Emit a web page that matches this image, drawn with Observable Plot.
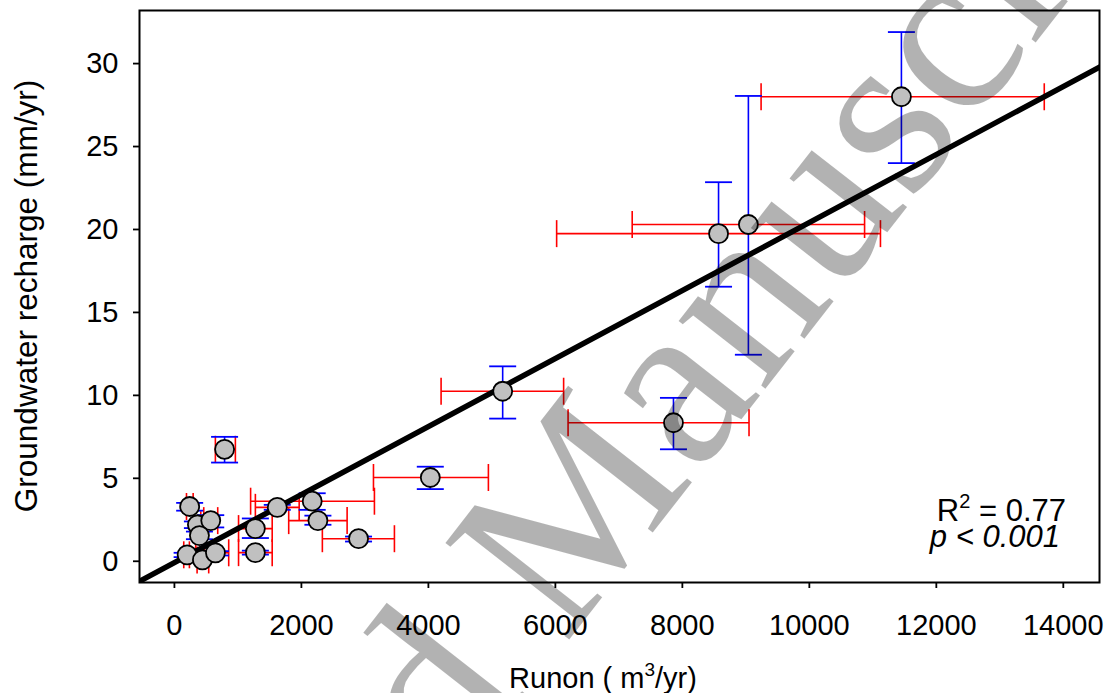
<!DOCTYPE html>
<html><head><meta charset="utf-8">
<script src="https://cdn.jsdelivr.net/npm/d3@7"></script>
<script src="https://cdn.jsdelivr.net/npm/@observablehq/plot@0.6"></script>
<style>
body{margin:0;background:#fff;}
#chart{position:relative;width:1108px;height:693px;overflow:hidden;background:#fff}
</style>
</head><body><div id="chart"></div>
<script>
// ---- data ----
const runon        = [11450, 9040, 8570, 5170, 7860, 4030, 790, 2900, 2170, 1620, 2260, 1275, 1275, 240, 362, 572, 394, 200, 441, 646];
const runonLow     = [ 9240, 7210, 6020, 4200, 6200, 3135, 645, 2330, 1200, 1275, 1800, 1010, 1010, 190, 310, 462, 335, 147, 357, 472];
const runonHigh    = [13700,10870,11120, 6130, 9050, 4945, 960, 3465, 3150, 1965, 2720, 1540, 1540, 295, 415, 682, 455, 236, 540, 855];
const recharge     = [28.0, 20.3, 19.75, 10.25, 8.35, 5.05, 6.75, 1.36, 3.62, 3.25, 2.45, 1.97, 0.52, 3.30, 2.20, 2.45, 1.55, 0.39, 0.08, 0.51];
const rechargeLow  = [24.0, 12.45,16.55, 8.6,  6.75, 4.35, 5.95, 1.19, 3.10, 3.10, 2.20, 1.40, 0.40, 3.05, 2.00, 2.04, 1.33, 0.25, -0.02, 0.35];
const rechargeHigh = [31.9, 28.05,22.85, 11.75, 9.85, 5.70, 7.50, 1.49, 4.10, 3.40, 2.75, 2.58, 0.64, 3.52, 2.40, 2.78, 1.79, 0.51, 0.18, 0.61];
const xTicks = [0, 2000, 4000, 6000, 8000, 10000, 12000, 14000];
const yTicks = [0, 5, 10, 15, 20, 25, 30];
const xDomain = [-550, 14570];
const yDomain = [-1.28, 33.2];
const fitIntercept = -0.08;
const fitSlope = 0.00205;
const r2Text = "0.77";
const pText = "0.001";
const xTitle = "Runon (";
const yTitle = "Groundwater recharge (mm/yr)";
const watermarkWords = ["Accepted", "Manuscript"];

// ---- tables ----
const rows = runon.map((x, i) => ({x, y: recharge[i], x1: runonLow[i], x2: runonHigh[i], y1: rechargeLow[i], y2: rechargeHigh[i]}));
const fitRows = xDomain.map(x => ({x, y: fitIntercept + fitSlope * x}));

// cap symbols (length driven by r)
const vCap = {draw(ctx, size){ const h = Math.sqrt(size / Math.PI); ctx.moveTo(0, -h); ctx.lineTo(0, h); }};
const hCap = {draw(ctx, size){ const h = Math.sqrt(size / Math.PI); ctx.moveTo(-h, 0); ctx.lineTo(h, 0); }};
const capR = 13.5;
const RED = "#ff0000", BLUE = "#0000ff";

const plot = Plot.plot({
  width: 1108, height: 693,
  marginLeft: 139, marginRight: 9, marginTop: 10, marginBottom: 111,
  style: {fontFamily: "'Liberation Sans', Arial, sans-serif", fontSize: "29px", background: "#fff", color: "#000"},
  x: {domain: xDomain, label: null},
  y: {domain: yDomain, label: null},
  marks: [
    Plot.axisX({ticks: xTicks, tickFormat: d3.format("d"), tickSize: 6, tickPadding: 26, strokeWidth: 1.8, fontSize: 29, label: null}),
    Plot.axisY({ticks: yTicks, tickFormat: d3.format("d"), tickSize: 6, tickPadding: 15, strokeWidth: 1.8, fontSize: 29, label: null}),
    // x error bars (red)
    Plot.link(rows, {x1: "x1", x2: "x2", y1: "y", y2: "y", stroke: RED, strokeWidth: 1.6}),
    Plot.dot(rows, {x: "x1", y: "y", symbol: vCap, r: capR, stroke: RED, strokeWidth: 1.6, fill: "none"}),
    Plot.dot(rows, {x: "x2", y: "y", symbol: vCap, r: capR, stroke: RED, strokeWidth: 1.6, fill: "none"}),
    // y error bars (blue)
    Plot.link(rows, {x1: "x", x2: "x", y1: "y1", y2: "y2", stroke: BLUE, strokeWidth: 1.6}),
    Plot.dot(rows, {x: "x", y: "y1", symbol: hCap, r: capR, stroke: BLUE, strokeWidth: 1.8, fill: "none"}),
    Plot.dot(rows, {x: "x", y: "y2", symbol: hCap, r: capR, stroke: BLUE, strokeWidth: 1.8, fill: "none"}),
    // regression line
    Plot.line(fitRows, {x: "x", y: "y", stroke: "#000", strokeWidth: 5.5, clip: true}),
    // points
    Plot.dot(rows, {x: "x", y: "y", r: 9.5, fill: "#c0c0c0", stroke: "#000", strokeWidth: 1.8}),
    Plot.frame({stroke: "#000", strokeWidth: 2})
  ]
});
document.getElementById("chart").appendChild(plot);

const svg = d3.select(plot);
// y title
svg.append("text")
  .attr("transform", "translate(37,296) rotate(-90)")
  .attr("text-anchor", "middle")
  .attr("font-size", 31.5)
  .attr("fill", "#000")
  .text(yTitle);
// x title with superscript
const xt = svg.append("text")
  .attr("x", 603).attr("y", 688)
  .attr("text-anchor", "middle")
  .attr("font-size", 29)
  .attr("fill", "#000");
xt.append("tspan").text(xTitle + "\u00a0m");
xt.append("tspan").attr("dy", -12).attr("font-size", 19).text("3");
xt.append("tspan").attr("dy", 12).text("/yr)");
// annotation
const an = svg.append("text").attr("x", 1066).attr("y", 521).attr("text-anchor", "end").attr("font-size", 31).attr("fill", "#000");
an.append("tspan").text("R");
an.append("tspan").attr("dy", -13).attr("font-size", 20).text("2");
an.append("tspan").attr("dy", 13).text("\u00a0=\u00a0" + r2Text);
const pn = svg.append("text").attr("x", 1060).attr("y", 547).attr("text-anchor", "end").attr("font-size", 31).attr("font-style", "italic").attr("fill", "#000");
pn.text("p < " + pText);

// watermark overlay
const wmFont = 240;
const wm = svg.append("g").attr("transform", "translate(565,645) rotate(-52)");
const wmStyle = sel => sel
  .style("font-family", "'Liberation Serif', 'DejaVu Serif', 'Noto Serif', 'FreeSerif', 'Times New Roman', serif")
  .style("font-size", wmFont + "px")
  .style("fill", "#000")
  .style("fill-opacity", 0.3);
wm.append("text").call(wmStyle).attr("x", -wmFont * 0.25).attr("text-anchor", "end").text(watermarkWords[0]);
wm.append("text").call(wmStyle).attr("x", 0).attr("text-anchor", "start").text(watermarkWords[1]);
</script>
</body></html>
